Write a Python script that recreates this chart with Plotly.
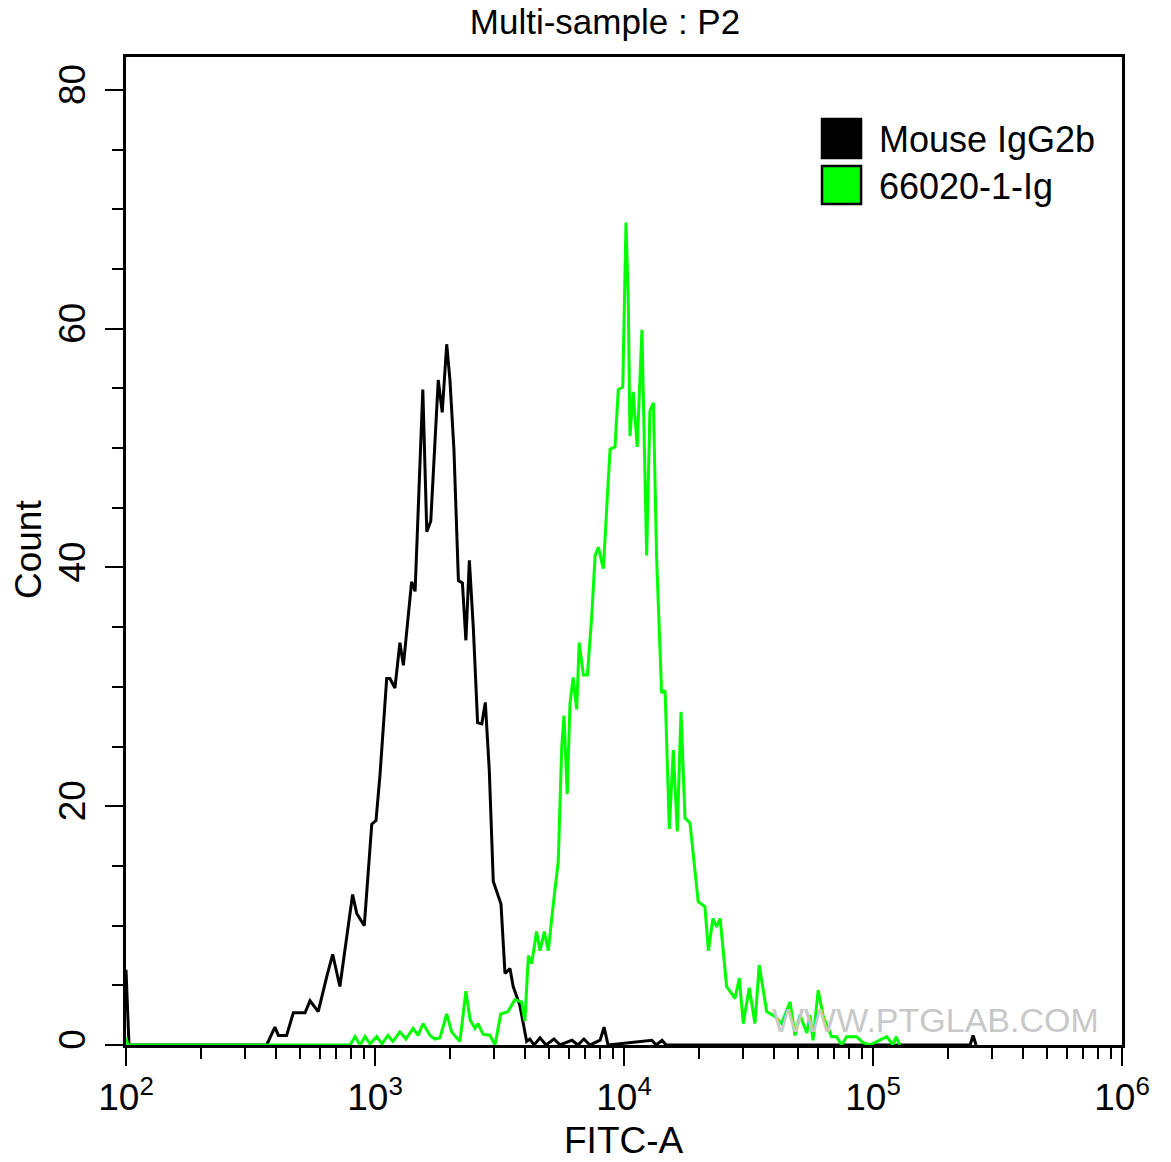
import numpy as np
import plotly.graph_objects as go

# ---- data (x stored as log10 of FITC-A, y as Count) ----
black_log_fitc = [2.000, 2.012, 2.565, 2.598, 2.612, 2.645, 2.672, 2.719, 2.739, 2.772,
                  2.806, 2.830, 2.859, 2.910, 2.927, 2.957, 2.987, 3.004, 3.020, 3.047,
                  3.060, 3.080, 3.100, 3.114, 3.147, 3.161, 3.192, 3.208, 3.224, 3.254,
                  3.270, 3.288, 3.301, 3.317, 3.335, 3.351, 3.365, 3.379, 3.395, 3.412,
                  3.429, 3.443, 3.459, 3.475, 3.506, 3.522, 3.542, 3.555, 3.582, 3.609,
                  3.622, 3.639, 3.663, 3.687, 3.719, 3.743, 3.791, 3.815, 3.839, 3.863,
                  3.904, 3.920, 3.936, 4.112, 4.129, 4.153, 4.169, 5.390, 5.402, 5.414]
black_count = [6.3, 0.0, 0.0, 1.5, 0.8, 0.8, 2.7, 2.7, 3.7, 2.8,
               5.7, 7.6, 4.9, 12.6, 11.0, 10.0, 18.5, 18.8, 22.6, 30.7,
               30.7, 29.9, 33.7, 31.8, 38.8, 38.0, 54.9, 43.0, 43.9, 55.7,
               53.0, 58.7, 55.7, 49.9, 38.9, 38.7, 33.9, 40.6, 34.9, 27.0,
               26.9, 28.7, 23.0, 13.7, 11.8, 6.0, 6.4, 4.9, 3.3, 0.3,
               0.5, 0.0, 0.6, 0.0, 0.5, 0.0, 0.4, 0.0, 0.5, 0.0,
               0.4, 1.5, 0.0, 0.4, 0.0, 0.4, 0.0, 0.0, 0.8, 0.0]

green_log_fitc = [2.000, 2.008, 2.900, 2.920, 2.940, 2.960, 2.980, 3.007, 3.028, 3.052,
                  3.072, 3.100, 3.124, 3.153, 3.173, 3.193, 3.221, 3.241, 3.261, 3.288,
                  3.308, 3.341, 3.365, 3.382, 3.402, 3.414, 3.434, 3.462, 3.482, 3.505,
                  3.534, 3.562, 3.589, 3.602, 3.616, 3.629, 3.649, 3.663, 3.680, 3.696,
                  3.716, 3.736, 3.750, 3.759, 3.772, 3.783, 3.796, 3.810, 3.820, 3.837,
                  3.853, 3.870, 3.884, 3.897, 3.917, 3.944, 3.964, 3.977, 3.995, 4.008,
                  4.017, 4.024, 4.037, 4.053, 4.072, 4.084, 4.091, 4.104, 4.118, 4.131,
                  4.151, 4.165, 4.182, 4.198, 4.214, 4.229, 4.245, 4.265, 4.298, 4.325,
                  4.339, 4.357, 4.372, 4.386, 4.412, 4.446, 4.463, 4.479, 4.503, 4.526,
                  4.543, 4.573, 4.606, 4.633, 4.667, 4.687, 4.707, 4.734, 4.747, 4.759,
                  4.780, 4.800, 4.834, 4.854, 4.874, 4.894, 4.934, 4.960, 4.988, 5.055,
                  5.080, 5.092, 5.108]
green_count = [0.6, 0.0, 0.0, 0.7, 0.0, 0.7, 0.1, 0.7, 0.1, 0.8,
               0.3, 1.1, 0.5, 1.4, 0.8, 1.8, 0.8, 0.5, 0.6, 2.6,
               1.1, 0.3, 4.5, 2.1, 1.4, 1.8, 0.9, 0.8, 0.0, 2.6,
               2.8, 3.8, 3.6, 2.0, 7.5, 6.8, 9.5, 7.9, 9.5, 7.9,
               11.8, 15.4, 25.0, 27.6, 21.0, 28.6, 30.8, 28.1, 33.7, 31.0,
               31.0, 35.8, 41.0, 41.7, 39.9, 49.9, 50.1, 54.9, 55.1, 68.9,
               62.6, 51.0, 54.7, 50.1, 59.9, 46.3, 41.0, 53.1, 53.8, 40.8,
               29.5, 29.7, 18.1, 24.7, 17.9, 27.9, 19.0, 18.6, 12.0, 11.6,
               7.9, 10.6, 9.9, 10.6, 4.9, 3.9, 5.6, 1.8, 4.8, 1.8,
               6.7, 2.8, 2.4, 1.8, 3.6, 0.8, 2.5, 1.0, 2.5, 0.4,
               4.6, 2.4, 0.7, 0.7, 0.0, 0.7, 0.7, 0.2, 0.0, 0.7,
               0.0, 0.7, 0.0]

series_names = ["Mouse IgG2b", "66020-1-Ig"]
series_colors = ["#000000", "#00ff00"]
x_tick_vals = [1e2, 1e3, 1e4, 1e5, 1e6]
x_tick_text = ["10<sup>2</sup>", "10<sup>3</sup>", "10<sup>4</sup>", "10<sup>5</sup>", "10<sup>6</sup>"]
y_tick_vals = [0, 20, 40, 60, 80]

FONT = "Liberation Sans, Arial, sans-serif"

fig = go.Figure()
for lx, cnt, name, col in [(black_log_fitc, black_count, series_names[0], series_colors[0]),
                           (green_log_fitc, green_count, series_names[1], series_colors[1])]:
    fig.add_trace(go.Scatter(x=10 ** np.array(lx), y=cnt, mode="lines", name=name,
                             line=dict(color=col, width=3), showlegend=False))

minor_x = [m * 10 ** e for e in range(2, 6) for m in range(2, 10)]

fig.update_layout(
    width=1171, height=1162,
    margin=dict(l=126, r=49, t=57, b=117),
    paper_bgcolor="white", plot_bgcolor="white",
    font=dict(family=FONT, size=37, color="black"),
    showlegend=False,
    title=dict(text="Multi-sample : P2", x=605 / 1171, xref="container", xanchor="center",
               y=1 - 22 / 1162, yref="container", yanchor="middle",
               font=dict(family=FONT, size=35, color="black")),
    xaxis=dict(type="log", range=[2, 6], showgrid=False, zeroline=False,
               showline=True, linecolor="black", linewidth=2.5, mirror=True,
               ticks="outside", ticklen=18, tickwidth=2, tickcolor="black",
               tickvals=x_tick_vals, ticktext=x_tick_text,
               tickfont=dict(family=FONT, size=37),
               minor=dict(tickvals=minor_x, ticks="outside", ticklen=11, tickwidth=2, tickcolor="black")),
    yaxis=dict(range=[0, 82.76], showgrid=False, zeroline=False,
               showline=True, linecolor="black", linewidth=2.5, mirror=True,
               ticks="outside", ticklen=18, tickwidth=2, tickcolor="black",
               tickvals=y_tick_vals, tickangle=-90, ticklabelstandoff=5,
               tickfont=dict(family=FONT, size=37),
               minor=dict(dtick=5, ticks="outside", ticklen=11, tickwidth=2, tickcolor="black")),
)

# axis titles
fig.add_annotation(text="FITC-A", xref="paper", yref="paper", x=0.5, y=(1045 - 1140) / 988,
                   xanchor="center", yanchor="middle", showarrow=False,
                   font=dict(family=FONT, size=37, color="black"))
fig.add_annotation(text="Count", xref="paper", yref="paper", x=(28 - 126) / 996, y=0.501,
                   xanchor="center", yanchor="middle", textangle=-90, showarrow=False,
                   font=dict(family=FONT, size=37, color="black"))

# legend drawn manually (square swatches)
legend_rows = [(0.9372, 0.8978, 0.917), (0.8897, 0.8512, 0.8694)]
for (ytop, ybot, ytext), name, col in zip(legend_rows, series_names, series_colors):
    fig.add_shape(type="rect", xref="paper", yref="paper", x0=0.6988, x1=0.7380, y0=ybot, y1=ytop,
                  fillcolor=col, line=dict(color="black", width=2.5))
    fig.add_annotation(text=name, xref="paper", yref="paper", x=0.754, y=ytext,
                       xanchor="left", yanchor="middle", showarrow=False,
                       font=dict(family=FONT, size=36, color="black"))

# watermark
fig.add_annotation(text="WWW.PTGLAB.COM", xref="paper", yref="paper", x=0.813, y=0.0253,
                   xanchor="center", yanchor="middle", showarrow=False,
                   font=dict(family=FONT, size=34, color="#c8c8c8"))

fig.write_html("out.html", config={"displayModeBar": False},
               post_script="document.body.style.margin='0';")
